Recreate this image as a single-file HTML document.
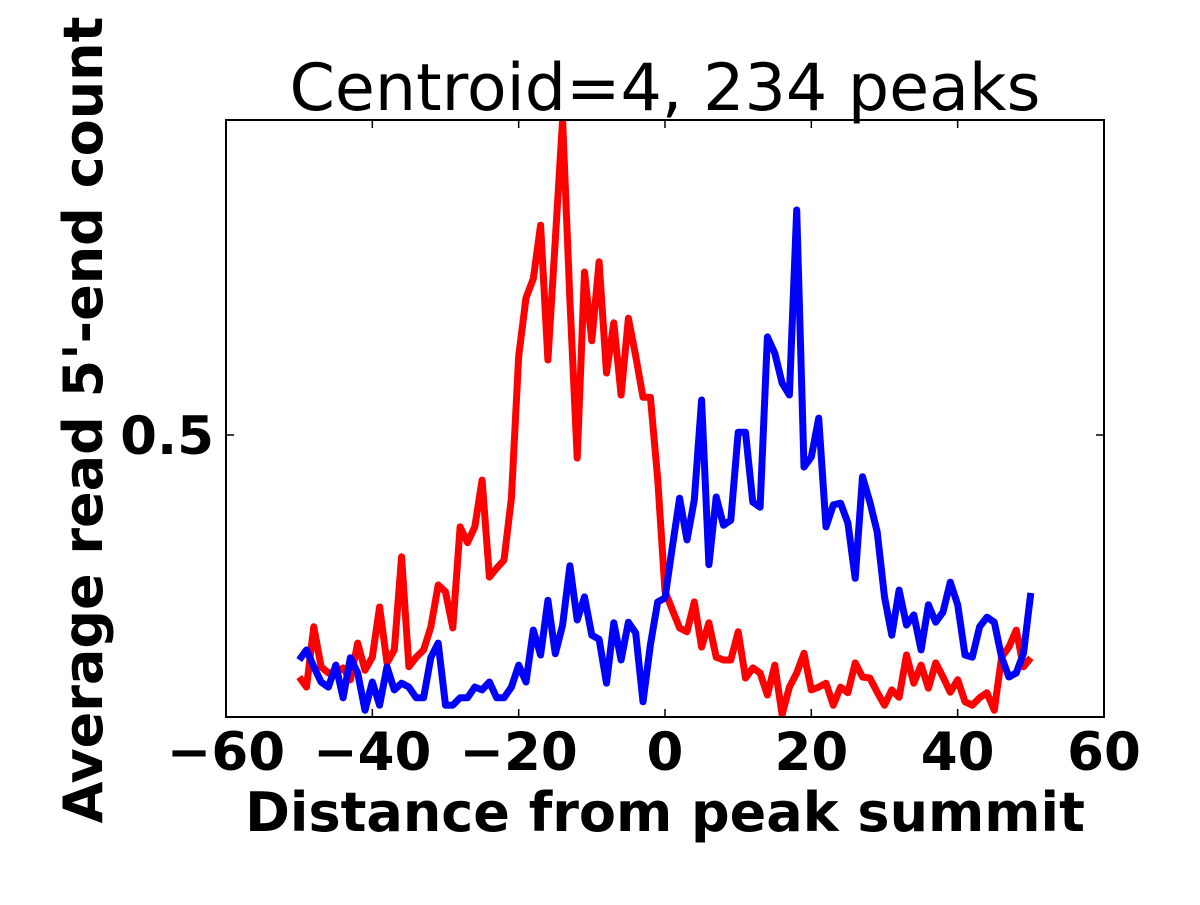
<!DOCTYPE html>
<html><head><meta charset="utf-8"><style>
body{margin:0;background:#fff;}
svg text{font-family:"DejaVu Sans","Liberation Sans",sans-serif;}
</style></head><body>
<svg id="chart" width="1200" height="900" viewBox="0 0 1200 900" xmlns="http://www.w3.org/2000/svg">
<defs><clipPath id="plotclip"><rect x="226" y="120" width="878" height="597"/></clipPath></defs>
<rect x="0" y="0" width="1200" height="900" fill="#fff"/>
<text x="665" y="110" font-size="65" text-anchor="middle">Centroid=4, 234 peaks</text>
<g id="series" clip-path="url(#plotclip)"></g>
<rect x="226" y="120" width="878" height="597" fill="none" stroke="#000" stroke-width="2"/>
<g id="ticks"></g>
<text x="665" y="831" font-size="54" font-weight="bold" text-anchor="middle">Distance from peak summit</text>
<text transform="translate(102,420) rotate(-90)" font-size="54" font-weight="bold" text-anchor="middle">Average read 5'-end count</text>
</svg>
<script>
const positions = [];
for (let i = -50; i <= 50; i++) positions.push(i);
const redValues = [.071,.053,.160,.089,.078,.080,.087,.066,.131,.083,.106,.195,.096,.119,.284,.089,.106,.119,.160,.234,.222,.158,.337,.309,.337,.420,.248,.264,.278,.388,.640,.743,.777,.872,.633,.846,1.059,.739,.459,.789,.667,.807,.610,.699,.571,.707,.640,.567,.567,.422,.223,.190,.158,.151,.204,.124,.167,.106,.101,.101,.151,.069,.087,.078,.039,.092,.004,.053,.078,.113,.048,.053,.060,.021,.053,.043,.096,.071,.069,.044,.021,.048,.035,.110,.060,.092,.051,.096,.071,.044,.066,.027,.021,.034,.043,.012,.106,.124,.154,.089,.105];
const blueValues = [.101,.119,.089,.062,.053,.092,.034,.105,.078,.012,.062,.021,.089,.048,.060,.053,.034,.034,.106,.131,.021,.021,.034,.034,.053,.048,.062,.034,.034,.053,.092,.062,.154,.110,.207,.112,.163,.268,.172,.213,.145,.138,.060,.167,.101,.168,.149,.027,.128,.204,.211,.301,.388,.314,.385,.562,.270,.390,.340,.349,.505,.505,.381,.372,.674,.645,.592,.571,.899,.443,.461,.530,.337,.376,.379,.344,.246,.426,.381,.328,.213,.145,.225,.163,.181,.119,.199,.168,.186,.239,.199,.110,.106,.160,.177,.168,.106,.071,.078,.113,.220];
const xTicks = [-60,-40,-20,0,20,40,60];
const xTickLabels = ["\u221260","\u221240","\u221220","0","20","40","60"];
const yTicks = [0.5];
const yTickLabels = ["0.5"];

const X0=226,X1=1104,Y0=717,Y1=120,XMIN=-60,XMAX=60,YMIN=0,YMAX=1.0585;
function sx(v){return X0+(v-XMIN)/(XMAX-XMIN)*(X1-X0);}
function sy(v){return Y0-(v-YMIN)/(YMAX-YMIN)*(Y0-Y1);}
const NS="http://www.w3.org/2000/svg";
const sg=document.getElementById('series');
function line(vals,color,name){
  const p=document.createElementNS(NS,'polyline');
  p.setAttribute('points',vals.map((v,i)=>sx(positions[i]).toFixed(1)+','+sy(v).toFixed(1)).join(' '));
  p.setAttribute('fill','none');p.setAttribute('stroke',color);p.setAttribute('stroke-width','7');
  p.setAttribute('stroke-linejoin','round');
  
  
  sg.appendChild(p);
}
line(redValues,'#ff0000','red-series-line');
line(blueValues,'#0000ff','blue-series-line');
const tg=document.getElementById('ticks');
function mk(tag,attrs){const e=document.createElementNS(NS,tag);for(const k in attrs)e.setAttribute(k,attrs[k]);tg.appendChild(e);return e;}
xTicks.forEach((t,i)=>{
  const x=sx(t);
  const a=mk('line',{x1:x,x2:x,y1:Y0,y2:Y0-8,stroke:'#000','stroke-width':1.5});
  
  
  const b=mk('line',{x1:x,x2:x,y1:Y1,y2:Y1+8,stroke:'#000','stroke-width':1.5});
  
  
  const l=mk('text',{x:x,y:770,'font-size':53,'font-weight':'bold','text-anchor':'middle'});
  l.textContent=xTickLabels[i];
  
  
});
yTicks.forEach((t,i)=>{
  const y=sy(t);
  const a=mk('line',{x1:X0,x2:X0+8,y1:y,y2:y,stroke:'#000','stroke-width':1.5});
  
  
  const b=mk('line',{x1:X1,x2:X1-8,y1:y,y2:y,stroke:'#000','stroke-width':1.5});
  
  
  const l=mk('text',{x:214,y:y+19,'font-size':53,'font-weight':'bold','text-anchor':'end'});
  l.textContent=yTickLabels[i];
  
  
});
</script>
</body></html>
